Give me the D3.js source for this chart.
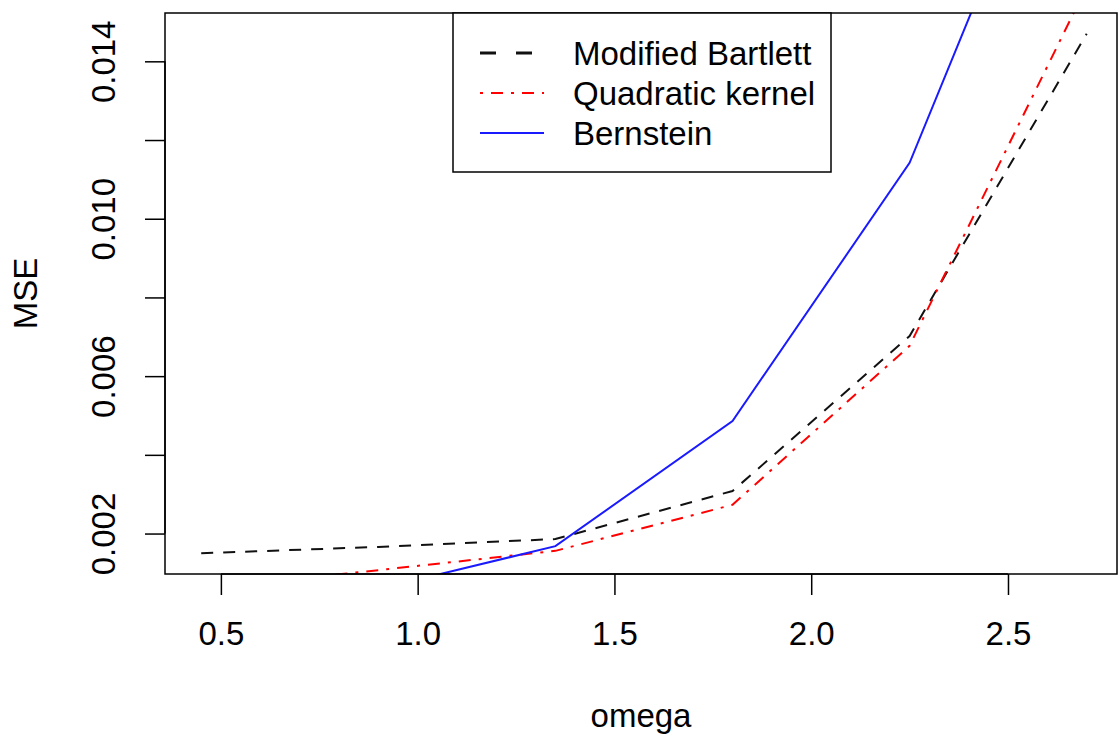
<!DOCTYPE html>
<html>
<head>
<meta charset="utf-8">
<script src="https://cdn.jsdelivr.net/npm/d3@7"></script>
<style>
    body { margin: 0; background: #fff; }
    svg text { font-family: "Liberation Sans", Arial, Helvetica, sans-serif; fill: #000; }
</style>
</head>
<body>
<div class="chart-container"></div>
<script>
const omega = [0.45, 0.9, 1.35, 1.8, 2.25, 2.7];
const bartlett = [0.0015, 0.00166, 0.00186, 0.00308, 0.00702, 0.0147];
const quadratic = [0.0006, 0.00107, 0.00156, 0.00273, 0.00677, 0.0159];
const bernstein = [0.0004, 0.00059, 0.00168, 0.00486, 0.01142, 0.0224];
const xTicks = [0.5, 1.0, 1.5, 2.0, 2.5];
const yTicks = [0.002, 0.004, 0.006, 0.008, 0.010, 0.012, 0.014];
const legendLabels = ['Modified Bartlett', 'Quadratic kernel', 'Bernstein'];

const width = 1120;
const height = 737;
const plot = { left: 165, right: 1117, top: 13, bottom: 574 };
const fontSize = 33;

const svg = d3.select('.chart-container')
              .append('svg')
              .attr('width', width)
              .attr('height', height);

const xScale = d3.scaleLinear()
                 .domain([0.358, 2.777])
                 .range([plot.left, plot.right]);

// R style ylim: range of the first series plus 4% each side
const yMin = d3.min(bartlett), yMax = d3.max(bartlett);
const pad = (yMax - yMin) * 0.04;
const yScale = d3.scaleLinear()
                 .domain([yMin - pad, yMax + pad])
                 .range([plot.bottom, plot.top]);

svg.append('clipPath')
   .attr('id', 'plot-clip')
   .append('rect')
   .attr('x', plot.left)
   .attr('y', plot.top)
   .attr('width', plot.right - plot.left)
   .attr('height', plot.bottom - plot.top);

const series = [
    { name: legendLabels[0], values: bartlett, color: '#111', dash: '12,10', legendDash: '16,20', width: 2 },
    { name: legendLabels[1], values: quadratic, color: '#ff0000', dash: '3,8,12,8', legendDash: '3,8,12,8', width: 2 },
    { name: legendLabels[2], values: bernstein, color: '#1a1aff', dash: null, legendDash: null, width: 2 }
];

const line = d3.line()
               .x((d, i) => xScale(omega[i]))
               .y(d => yScale(d));

svg.append('g')
   .attr('clip-path', 'url(#plot-clip)')
   .selectAll('path')
   .data(series)
   .enter()
   .append('path')
   .attr('d', d => line(d.values))
   .attr('fill', 'none')
   .attr('stroke', d => d.color)
   .attr('stroke-width', d => d.width)
   .attr('stroke-dasharray', d => d.dash);

// x axis
const xAxis = d3.axisBottom(xScale)
                .tickValues(xTicks)
                .tickSize(21)
                .tickFormat(d3.format('.1f'));
const gx = svg.append('g')
              .attr('transform', 'translate(0,' + plot.bottom + ')')
              .call(xAxis);
gx.select('.domain').attr('d', 'M' + xScale(xTicks[0]) + ',0H' + xScale(xTicks[xTicks.length - 1]));
gx.selectAll('line, .domain').attr('stroke', '#000').attr('stroke-width', 1.5);
gx.selectAll('text').attr('font-size', fontSize).attr('dy', null).attr('y', 71).attr('fill', '#000');

// y axis
const yAxis = d3.axisLeft(yScale)
                .tickValues(yTicks)
                .tickSize(20)
                .tickFormat(d3.format('.3f'));
const gy = svg.append('g')
              .attr('transform', 'translate(' + plot.left + ',0)')
              .call(yAxis);
gy.select('.domain').attr('d', 'M0,' + yScale(yTicks[0]) + 'V' + yScale(yTicks[yTicks.length - 1]));
gy.selectAll('line, .domain').attr('stroke', '#000').attr('stroke-width', 1.5);
gy.selectAll('text')
  .filter((d, i) => i % 2 === 0)
  .attr('font-size', fontSize)
  .attr('x', null)
  .attr('dy', null)
  .attr('text-anchor', 'middle')
  .attr('transform', 'translate(-50,0) rotate(-90)')
  .attr('fill', '#000');
gy.selectAll('text')
  .filter((d, i) => i % 2 === 1)
  .remove();

// box
svg.append('rect')
   .attr('x', plot.left)
   .attr('y', plot.top)
   .attr('width', plot.right - plot.left)
   .attr('height', plot.bottom - plot.top)
   .attr('fill', 'none')
   .attr('stroke', '#000')
   .attr('stroke-width', 1.5);

// axis titles
svg.append('text')
   .attr('x', (plot.left + plot.right) / 2)
   .attr('y', 727)
   .attr('text-anchor', 'middle')
   .attr('font-size', fontSize)
   .text('omega');

svg.append('text')
   .attr('transform', 'translate(37,' + (plot.top + plot.bottom) / 2 + ') rotate(-90)')
   .attr('text-anchor', 'middle')
   .attr('font-size', fontSize)
   .text('MSE');

// legend
const legend = svg.append('g');
legend.append('rect')
      .attr('x', 453)
      .attr('y', plot.top)
      .attr('width', 831 - 453)
      .attr('height', 172 - plot.top)
      .attr('fill', '#fff')
      .attr('stroke', '#000')
      .attr('stroke-width', 1.5);

const rows = legend.selectAll('.row')
                   .data(series)
                   .enter()
                   .append('g')
                   .attr('transform', (d, i) => 'translate(0,' + (53 + i * 40) + ')');
rows.append('line')
    .attr('x1', 480)
    .attr('x2', 544)
    .attr('stroke', d => d.color)
    .attr('stroke-width', (d, i) => i === 0 ? 3 : d.width)
    .attr('stroke-dasharray', d => d.legendDash);
rows.append('text')
    .attr('x', 573)
    .attr('y', 12)
    .attr('font-size', fontSize)
    .text(d => d.name);
</script>
</body>
</html>
